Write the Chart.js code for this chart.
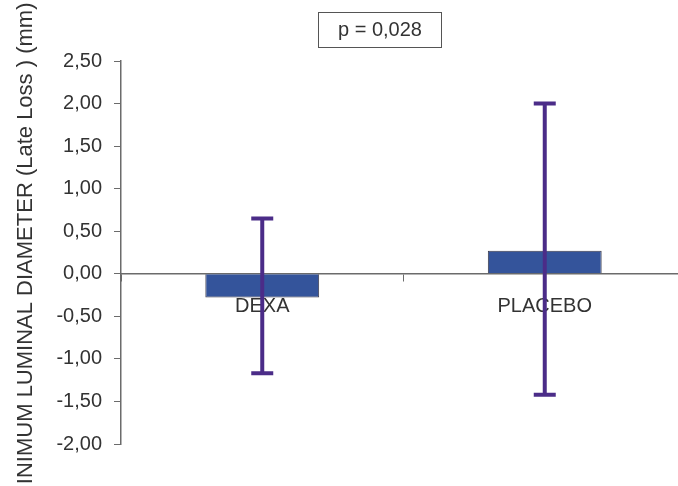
<!DOCTYPE html>
<html>
<head>
<meta charset="utf-8">
<script src="https://cdn.jsdelivr.net/npm/chart.js@4.4.1/dist/chart.umd.min.js"></script>
<style>
  html, body { margin: 0; padding: 0; background: #fff; overflow: hidden; }
  #wrap { width: 678px; height: 486px; overflow: hidden; }
  #box { width: 700px; height: 486px; position: relative; }
</style>
</head>
<body>
<div id="wrap"><div id="box"><canvas id="chart"></canvas></div></div>
<script>
const categories = ["DEXA", "PLACEBO"];
const lateLoss = [-0.28, 0.27];
const errHigh = [0.65, 2.0];
const errLow = [-1.17, -1.42];
const pLabel = "p = 0,028";
const yTitle = "MINIMUM LUMINAL DIAMETER (Late Loss ) (mm)";

const font = "'Liberation Sans', Arial, sans-serif";
const textColor = "#333333";
const axisColor = "#6b6b6b";

const errorBars = {
  id: "errorBars",
  afterDatasetsDraw(chart) {
    const { ctx } = chart;
    const y = chart.scales.y;
    const meta = chart.getDatasetMeta(0);
    ctx.save();
    ctx.strokeStyle = "#4b2c88";
    ctx.lineWidth = 4;
    meta.data.forEach((bar, i) => {
      const top = y.getPixelForValue(errHigh[i]);
      const bottom = y.getPixelForValue(errLow[i]);
      ctx.beginPath();
      ctx.moveTo(bar.x, top);
      ctx.lineTo(bar.x, bottom);
      ctx.moveTo(bar.x - 11, top);
      ctx.lineTo(bar.x + 11, top);
      ctx.moveTo(bar.x - 11, bottom);
      ctx.lineTo(bar.x + 11, bottom);
      ctx.stroke();
    });
    ctx.restore();
  },
};

const boxedTitle = {
  id: "boxedTitle",
  afterDraw(chart) {
    const { ctx } = chart;
    ctx.save();
    ctx.font = "20px " + font;
    ctx.fillStyle = textColor;
    ctx.textAlign = "center";
    ctx.textBaseline = "middle";
    ctx.fillText(pLabel, 380, 30);
    ctx.strokeStyle = "#555555";
    ctx.lineWidth = 1;
    ctx.strokeRect(318.5, 12.5, 123, 35);
    ctx.restore();
  },
};

new Chart(document.getElementById("chart"), {
  type: "bar",
  data: {
    labels: categories,
    datasets: [
      {
        data: lateLoss,
        backgroundColor: "#34549b",
        borderColor: "#3a3a4a",
        borderWidth: 1,
        barPercentage: 0.403,
        categoryPercentage: 1,
      },
    ],
  },
  options: {
    responsive: true,
    maintainAspectRatio: false,
    animation: false,
    layout: { padding: { top: 61, bottom: 42, left: 0, right: 14 } },
    plugins: {
      legend: { display: false },
      tooltip: { enabled: false },
    },
    scales: {
      x: {
        position: { y: 0 },
        offset: true,
        grid: {
          offset: true,
          drawOnChartArea: false,
          drawTicks: true,
          tickLength: 7,
          color: axisColor,
        },
        border: { display: true, color: axisColor, width: 1.5 },
        ticks: {
          color: textColor,
          font: { family: font, size: 20 },
          padding: 14,
        },
      },
      y: {
        min: -2,
        max: 2.5,
        afterFit(scale) {
          scale.width = 121;
        },
        ticks: {
          stepSize: 0.5,
          color: textColor,
          font: { family: font, size: 20 },
          padding: 12,
          callback: (v) => v.toFixed(2).replace(".", ","),
        },
        grid: {
          drawOnChartArea: false,
          drawTicks: true,
          tickLength: 7,
          color: axisColor,
        },
        border: { display: true, color: axisColor, width: 1.5 },
        title: {
          display: true,
          text: yTitle,
          color: textColor,
          font: { family: font, size: 22 },
          padding: { top: 13, bottom: 0 },
        },
      },
    },
  },
  plugins: [errorBars, boxedTitle],
});
</script>
</body>
</html>
